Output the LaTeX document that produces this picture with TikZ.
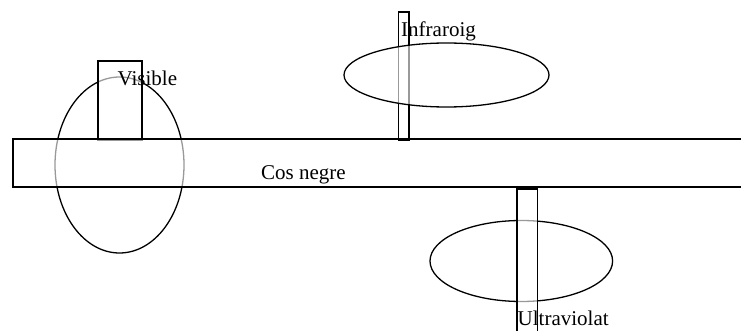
\documentclass[tikz,border=0pt]{standalone}
\usepackage{fontspec}
\setmainfont{Liberation Serif}
\begin{document}
\begin{tikzpicture}[x=1pt,y=-1pt,
  outl/.style={draw=black,line width=1.3pt},
  veil/.style={outl,fill=white,fill opacity=0.6},
  lbl/.style={inner sep=0pt,anchor=base west,font=\fontsize{21}{25}\selectfont}]
\useasboundingbox[fill=white] (0,0) rectangle (741,331);
% Visible
\draw[outl] (119.5,165) ellipse [x radius=64.5, y radius=88];
\draw[veil] (98,61) rectangle (142,140);
% body
\draw[veil] (13,139) rectangle (760,187);
% Infraroig
\draw[outl] (398.5,12) rectangle (409,140);
\draw[veil] (446.5,75) ellipse [x radius=102.5, y radius=32];
% Ultraviolat
\draw[outl] (521.3,261) ellipse [x radius=91.3, y radius=40.5];
\draw[veil] (517,189) rectangle (537.5,345);
% labels
\node[lbl] (vis) at (117.5,85.5) {Visible};
\node[lbl] (ir) at (401,37) {Infraroig};
\node[lbl] (uv) at (517.5,325.5) {Ultraviolat};
\node[lbl] (body) at (261,179) {Cos negre};
\end{tikzpicture}
\end{document}
